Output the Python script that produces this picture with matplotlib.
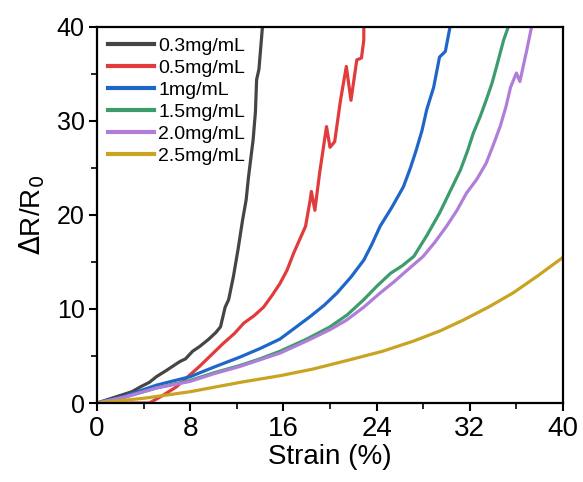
import matplotlib.pyplot as plt
from matplotlib.ticker import MultipleLocator

plt.rcParams['font.family'] = ['Liberation Sans', 'DejaVu Sans']

labels = ["0.3mg/mL", "0.5mg/mL", "1mg/mL", "1.5mg/mL", "2.0mg/mL", "2.5mg/mL"]
colors = ["#454545", "#e23b3b", "#1f66c9", "#3c9c6c", "#b07ed8", "#c9a322"]

# strain (%) / dR/R0
x03 = [0, 1, 2, 3, 3.7, 4.5, 5.1, 6.0, 7.1, 7.6, 8.2, 8.8, 9.6, 10.2, 10.6, 11.0, 11.3, 11.7, 12.1, 12.5, 12.8, 13.0, 13.4, 13.6, 13.7, 13.9, 14.2]
y03 = [0, 0.4, 0.8, 1.2, 1.7, 2.2, 2.8, 3.5, 4.4, 4.7, 5.5, 6.0, 6.8, 7.5, 8.1, 10.2, 11.0, 13.4, 16.3, 19.5, 21.6, 24.0, 28.0, 31.0, 34.4, 35.5, 40.0]

x05 = [0, 4.5, 5.5, 6.8, 7.8, 8.8, 9.8, 10.8, 11.8, 12.6, 13.5, 14.3, 15.0, 15.7, 16.3, 16.9, 17.4, 17.9, 18.3, 18.4, 18.7, 19.1, 19.7, 20.0, 20.4, 20.9, 21.4, 21.8, 22.3, 22.7, 22.9, 22.9]
y05 = [0, 0, 0.7, 1.7, 2.8, 3.9, 5.1, 6.3, 7.4, 8.5, 9.3, 10.2, 11.4, 12.7, 14.1, 16.0, 17.4, 18.8, 21.6, 22.5, 20.5, 24.4, 29.4, 27.2, 27.8, 32.2, 35.8, 32.2, 36.5, 36.7, 38.6, 40.0]

x10 = [0, 2.3, 5.1, 8.0, 10.0, 12.3, 14.0, 15.7, 17.0, 18.3, 19.5, 20.6, 21.8, 22.9, 23.6, 24.3, 25.3, 26.3, 26.9, 27.4, 27.9, 28.3, 28.9, 29.4, 29.9, 30.3]
y10 = [0, 0.7, 1.9, 2.8, 3.8, 4.9, 5.8, 6.8, 8.0, 9.2, 10.4, 11.7, 13.4, 15.2, 16.9, 18.8, 20.8, 23.0, 25.0, 26.9, 29.0, 31.2, 33.6, 36.8, 37.4, 40.0]

x15 = [0, 2.3, 5.1, 8.0, 10.0, 12.3, 14.0, 15.7, 18.0, 20.0, 21.5, 22.9, 24.0, 25.2, 26.2, 27.2, 28.3, 29.4, 30.3, 31.2, 31.8, 32.3, 32.9, 33.4, 33.9, 34.3, 34.9, 35.3]
y15 = [0, 0.6, 1.6, 2.4, 3.2, 4.0, 4.7, 5.5, 6.8, 8.1, 9.4, 11.0, 12.4, 13.8, 14.6, 15.6, 17.8, 20.2, 22.5, 24.8, 26.8, 28.7, 30.5, 32.2, 34.0, 35.8, 38.6, 40.0]

x20 = [0, 2.3, 5.1, 8.0, 10.0, 12.3, 14.0, 15.7, 18.0, 20.0, 21.4, 22.9, 24.3, 25.5, 26.6, 28.0, 29.0, 30.0, 30.9, 31.7, 32.6, 33.4, 34.0, 34.6, 35.1, 35.5, 36.0, 36.3, 36.9, 37.3]
y20 = [0, 0.6, 1.6, 2.3, 3.1, 3.9, 4.6, 5.3, 6.6, 7.8, 8.8, 10.2, 11.7, 12.9, 14.1, 15.6, 17.1, 18.8, 20.5, 22.3, 23.8, 25.5, 27.4, 29.4, 31.5, 33.6, 35.1, 34.2, 37.6, 40.0]

x25 = [0, 4.0, 8.0, 12.3, 15.7, 18.5, 21.4, 24.5, 27.2, 29.5, 31.4, 33.6, 35.7, 37.8, 40.0]
y25 = [0, 0.5, 1.2, 2.2, 2.9, 3.6, 4.5, 5.5, 6.6, 7.7, 8.8, 10.2, 11.7, 13.5, 15.5]

xs = [x03, x05, x10, x15, x20, x25]
ys = [y03, y05, y10, y15, y20, y25]

fig = plt.figure(figsize=(5.83, 4.82), dpi=100)
ax = fig.add_axes([0.1664, 0.1639, 0.7993, 0.7801])

for x, y, lab, c in zip(xs, ys, labels, colors):
    ax.plot(x, y, color=c, lw=2.3, label=lab)

ax.set_xlim(0, 40)
ax.set_ylim(0, 40)
ax.xaxis.set_major_locator(MultipleLocator(8))
ax.xaxis.set_minor_locator(MultipleLocator(4))
ax.yaxis.set_major_locator(MultipleLocator(10))
ax.yaxis.set_minor_locator(MultipleLocator(5))
ax.tick_params(which='major', length=6, width=1.5, direction='out')
ax.tick_params(which='minor', length=4, width=1.2, direction='out')
ax.tick_params(axis='x', labelsize=20, pad=3)
ax.tick_params(axis='y', labelsize=18, pad=3)
for s in ax.spines.values():
    s.set_linewidth(1.6)

ax.set_xlabel("Strain (%)", fontsize=20, labelpad=2)
ax.set_ylabel(r"$\Delta$R/R$_0$", fontsize=20, labelpad=7)

leg = ax.legend(loc='upper left', frameon=False, fontsize=14, handlelength=2.4,
                handletextpad=0.2, labelspacing=0.22, borderaxespad=0.25,
                borderpad=0.3)
for h in leg.get_lines():
    h.set_linewidth(3)

fig.savefig("out.png", dpi=100)
